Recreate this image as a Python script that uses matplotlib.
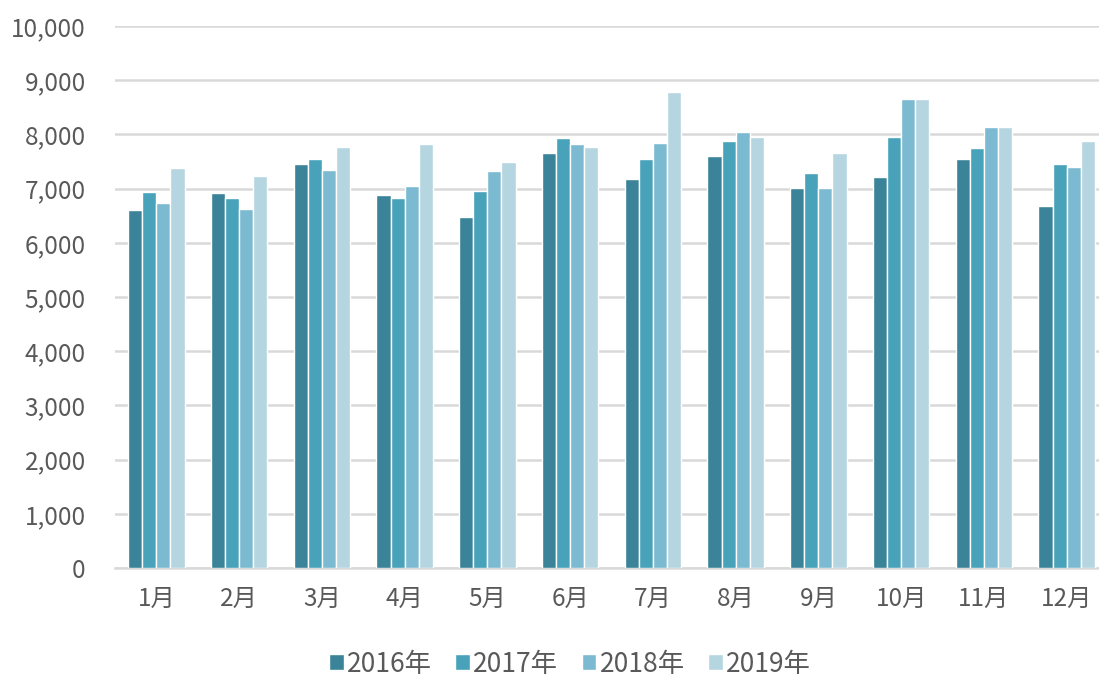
import matplotlib
matplotlib.use("Agg")
import matplotlib.pyplot as plt
import numpy as np
from matplotlib.ticker import FuncFormatter, MultipleLocator

plt.rcParams['font.family'] = ['Noto Sans CJK JP', 'DejaVu Sans']

months = ["1月", "2月", "3月", "4月", "5月", "6月", "7月", "8月", "9月", "10月", "11月", "12月"]
series_names = ["2016年", "2017年", "2018年", "2019年"]
v2016 = [6600, 6920, 7460, 6880, 6480, 7650, 7180, 7600, 7010, 7210, 7540, 6680]
v2017 = [6930, 6820, 7540, 6820, 6960, 7940, 7540, 7880, 7290, 7960, 7740, 7460]
v2018 = [6730, 6620, 7350, 7040, 7320, 7830, 7850, 8050, 7010, 8660, 8140, 7400]
v2019 = [7380, 7240, 7770, 7830, 7490, 7770, 8780, 7960, 7660, 8660, 8140, 7880]
colors = ["#3A8398", "#48A2BA", "#7BBAD0", "#B5D5E0"]

text_color = "#595959"
grid_color = "#D9D9D9"

fig = plt.figure(figsize=(10.99, 6.80), dpi=100)
ax = fig.add_axes([115 / 1099, 112 / 680, 993 / 1099, 542 / 680])

x = np.arange(len(months))
bw = 0.1705
all_series = [v2016, v2017, v2018, v2019]
handles = []
for i, (vals, c, name) in enumerate(zip(all_series, colors, series_names)):
    b = ax.bar(x + (i - 1.5) * bw, vals, width=bw, color=c, edgecolor="white",
               linewidth=1.0, label=name, zorder=3)
    handles.append(b)

ax.set_xlim(-0.5, len(months) - 0.5)
ax.set_ylim(0, 10000)
ax.yaxis.set_major_locator(MultipleLocator(1000))
ax.yaxis.set_major_formatter(FuncFormatter(lambda v, p: f"{int(v):,}"))
ax.grid(axis="y", color=grid_color, linewidth=1.8, zorder=0)
ax.set_axisbelow(True)

for s in ["top", "right", "left"]:
    ax.spines[s].set_visible(False)
ax.spines["bottom"].set_color(grid_color)
ax.spines["bottom"].set_linewidth(1.8)

ax.set_xticks(x)
ax.set_xticklabels(months)
ax.tick_params(axis="both", length=0, labelsize=17.5, labelcolor=text_color)
ax.tick_params(axis="y", pad=21)
ax.tick_params(axis="x", pad=13)

fig.legend(handles=handles, labels=series_names, loc="center",
           bbox_to_anchor=(570 / 1099, 16 / 680), ncol=4, frameon=False,
           fontsize=19, labelcolor=text_color, handlelength=0.55,
           handleheight=0.55, handletextpad=0.12, columnspacing=0.9)

fig.savefig("out.png", dpi=100)
